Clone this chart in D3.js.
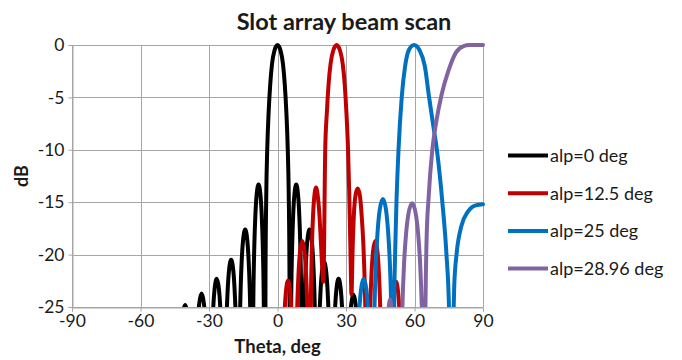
<!DOCTYPE html>
<html>
<head>
<meta charset="utf-8">
<script src="https://cdn.jsdelivr.net/npm/d3@7"></script>
<style>
  html, body { margin: 0; padding: 0; background: #ffffff; }
  svg { display: block; font-family: Lato, "Open Sans", sans-serif; }
</style>
</head>
<body>
<svg id="chart" width="682" height="360"></svg>
<script>
// Beam patterns of a slot array for several scan settings (theta in degrees, level in dB)
const seriesNames = ["alp=0 deg", "alp=12.5 deg", "alp=25 deg", "alp=28.96 deg"];
const seriesColors = ["#000000", "#c00000", "#0070c0", "#8064a2"];

const theta0 = [-90, -50,
  -44.2, -43.45, -42.33, -41.58, -40.45, -39.32, -38.58, -37.45, -36.7,
  -36.01, -34.98, -34.29, -33.25, -32.21, -31.52, -30.49, -29.8,
  -29.16, -28.2, -27.56, -26.6, -25.64, -25.0, -24.04, -23.4,
  -22.78, -22.32, -21.85, -21.23, -20.3, -19.37, -18.75, -18.28, -17.82, -17.2,
  -16.9, -16.59, -16.13, -15.68, -15.07, -14.15, -13.24, -12.63, -12.17, -11.71, -11.4, -11.1,
  -10.82, -10.54, -10.12, -9.7, -9.14, -8.3, -7.46, -6.9, -6.48, -6.06, -5.78, -5.5,
  -5.25, -4.9, -4.5, -3.9, -3.2, -2.4, -1.3, 0, 1.3, 2.4, 3.2, 3.9, 4.5, 4.9, 5.25, 5.5,
  5.77, 6.04, 6.45, 6.85, 7.39, 8.2, 9.01, 9.55, 9.96, 10.36, 10.63, 10.9,
  11.22, 11.53, 12.0, 12.48, 13.1, 14.05, 15.0, 15.62, 16.1, 16.57, 16.89, 17.2,
  17.84, 18.32, 18.8, 19.44, 20.4, 21.36, 22.0, 22.48, 22.96, 23.6,
  24.23, 25.18, 25.81, 26.75, 27.7, 28.33, 29.27, 29.9,
  30.57, 31.58, 32.25, 33.25, 34.25, 34.92, 35.93, 36.6,
  38.5, 39.3, 40.4, 41.5, 42.3, 44.2, 90];
const db0 = [-40, -40,
  -40, -35.0, -27.8, -25.8, -24.8, -25.8, -27.8, -35.0, -40,
  -33.9, -26.7, -24.7, -23.7, -24.7, -26.7, -33.9, -40,
  -32.5, -25.3, -23.3, -22.3, -23.3, -25.3, -32.5, -40,
  -30.7, -26.1, -23.5, -21.5, -20.5, -21.5, -23.5, -26.1, -30.7, -40,
  -33.7, -27.8, -23.2, -20.6, -18.6, -17.6, -18.6, -20.6, -23.2, -27.8, -33.7, -40,
  -29.4, -23.5, -18.9, -16.3, -14.3, -13.3, -14.3, -16.3, -18.9, -23.5, -29.4, -40,
  -22, -14, -10, -6.5, -3.8, -1.8, -0.5, 0, -0.5, -1.8, -3.8, -6.5, -10, -14, -22, -40,
  -29.4, -23.5, -18.9, -16.3, -14.3, -13.3, -14.3, -16.3, -18.9, -23.5, -29.4, -40,
  -33.7, -27.8, -23.2, -20.6, -18.6, -17.6, -18.6, -20.6, -23.2, -27.8, -33.7, -40,
  -30.9, -26.3, -23.7, -21.7, -20.7, -21.7, -23.7, -26.3, -30.9, -40,
  -32.5, -25.3, -23.3, -22.3, -23.3, -25.3, -32.5, -40,
  -34.0, -26.8, -24.8, -23.8, -24.8, -26.8, -34.0, -40,
  -28.3, -26.3, -25.3, -26.3, -28.3, -40, -40];

const theta1 = [-90, 1.6,
  2.2, 3.1, 3.7, 4.6, 5.5, 6.1, 7.0, 7.6,
  7.93, 8.25, 8.74, 9.23, 9.88, 10.85, 11.82, 12.48, 12.96, 13.45, 13.78, 14.1,
  14.38, 14.66, 15.08, 15.5, 16.06, 16.9, 17.75, 18.4, 19.0, 19.6, 20.1,
  20.9, 21.6, 22.35, 23.25, 24.45, 25.9, 27.35, 28.55, 29.45, 30.2, 30.9, 31.4, 31.9, 32.4,
  32.9, 33.5, 34.2, 35.1, 36.1, 36.9, 37.6, 38.3, 38.9, 39.6,
  39.92, 40.24, 40.72, 41.2, 41.84, 42.8, 43.76, 44.4, 44.88, 45.36, 45.68, 46.0,
  48.8, 49.42, 50.35, 50.97, 51.9, 52.83, 53.45, 54.38, 55.0, 90];
const db1 = [-40, -40,
  -32.7, -25.5, -23.5, -22.5, -23.5, -25.5, -32.7, -40,
  -34.8, -28.9, -24.3, -21.7, -19.7, -18.7, -19.7, -21.7, -24.3, -28.9, -34.8, -40,
  -29.7, -23.8, -19.2, -16.6, -14.6, -13.6, -14.6, -16.3, -18.8, -21.3, -22.6,
  -10, -6.5, -3.8, -1.8, -0.5, 0, -0.5, -1.8, -3.8, -6.5, -10, -14, -19, -23.8,
  -19.5, -16, -14.3, -13.7, -14.4, -16.4, -19, -23.5, -29.5, -40,
  -34.8, -28.9, -24.3, -21.7, -19.7, -18.7, -19.7, -21.7, -24.3, -28.9, -34.8, -40,
  -40, -32.8, -25.6, -23.6, -22.6, -23.6, -25.6, -32.8, -40, -40];

const theta2 = [-90, 33.9,
  34.67, 35.83, 36.6, 37.75, 38.9, 39.67, 40.83, 41.6,
  42.06, 42.51, 43.19, 43.88, 44.79, 46.15, 47.5, 48.4, 49.1, 49.8, 50.25, 50.7,
  51.1, 51.5, 52.1, 53.0, 54.4, 55.9, 57.5, 59.8, 62.2, 64.5, 66.4, 68.3, 69.8, 72.2, 74.0, 75.1, 75.9,
  76.7, 77.4, 78.5, 80.5, 83.4, 86.8, 90];
const db2 = [-40, -40,
  -32.5, -25.3, -23.3, -22.3, -23.3, -25.3, -32.5, -40,
  -30.8, -24.9, -20.3, -17.7, -15.7, -14.7, -15.7, -17.7, -20.3, -24.9, -30.8, -40,
  -25, -20, -15, -10, -5, -2, -0.5, 0, -0.5, -2, -5, -7.8, -10, -15, -20, -25, -40,
  -29, -23, -19.8, -17.3, -15.9, -15.3, -15.2];

const theta3 = [-90, 47.0,
  47.46, 48.15, 48.61, 49.3, 49.99, 50.45, 51.14, 51.6,
  53.6, 54.14, 54.67, 55.47, 56.28, 57.35, 58.95, 60.55, 61.63, 62.43, 63.23, 63.77, 64.3,
  64.8, 65.3, 66.2, 67.8, 69.4, 71.8, 74.8, 78.2, 81.5, 84, 90];
const db3 = [-40, -40,
  -34.5, -27.3, -25.3, -24.3, -25.3, -27.3, -34.5, -40,
  -40, -31.2, -25.3, -20.7, -18.1, -16.1, -15.1, -16.1, -18.1, -20.7, -25.3, -31.2, -40,
  -25, -18.5, -14.5, -10, -7.5, -4.8, -2.5, -0.7, -0.1, 0, 0];

const xTicks = [-90, -60, -30, 0, 30, 60, 90];
const yTicks = [0, -5, -10, -15, -20, -25];

const thetas = [theta0, theta1, theta2, theta3];
const levels = [db0, db1, db2, db3];

const svg = d3.select("#chart");
const plot = { left: 72, right: 483, top: 45, bottom: 307 };

const x = d3.scaleLinear().domain([-90, 90]).range([plot.left, plot.right]);
const y = d3.scaleLinear().domain([-25, 0]).range([plot.bottom, plot.top]);

const gridColor = "#a6a6a6";
const textColor = "#1a1a1a";
const plainNumber = d => String(d);

// gridlines
const grid = svg.append("g");
grid.selectAll("line.h").data(yTicks).join("line")
  .attr("x1", plot.left).attr("x2", plot.right)
  .attr("y1", d => Math.round(y(d)) + 0.5).attr("y2", d => Math.round(y(d)) + 0.5)
  .attr("stroke", gridColor).attr("stroke-width", 1);
grid.selectAll("line.v").data(xTicks).join("line")
  .attr("y1", plot.top).attr("y2", plot.bottom)
  .attr("x1", d => Math.round(x(d)) + 0.5).attr("x2", d => Math.round(x(d)) + 0.5)
  .attr("stroke", gridColor).attr("stroke-width", 1);

// axes
const xAxis = svg.append("g")
  .attr("transform", `translate(0,${Math.round(y(-25)) + 0.5})`)
  .call(d3.axisBottom(x).tickValues(xTicks).tickSize(4).tickPadding(3).tickFormat(plainNumber));
const yAxis = svg.append("g")
  .attr("transform", `translate(${Math.round(x(-90)) + 0.5},0)`)
  .call(d3.axisLeft(y).tickValues(yTicks).tickSize(4).tickPadding(4).tickFormat(plainNumber));
[xAxis, yAxis].forEach(a => {
  a.select(".domain").attr("stroke", gridColor);
  a.selectAll(".tick line").attr("stroke", gridColor);
  a.selectAll(".tick text").attr("fill", textColor).style("font-size", "17.5px").style("font-family", "Lato, sans-serif");
});
yAxis.selectAll(".tick text").attr("x", -8);

// curves, clipped to the plot area
svg.append("clipPath").attr("id", "plotclip").append("rect")
  .attr("x", plot.left).attr("y", plot.top - 3)
  .attr("width", plot.right - plot.left + 3).attr("height", plot.bottom - plot.top + 3);

const line = d3.line()
  .x(d => x(d[0])).y(d => y(d[1]))
  .curve(d3.curveMonotoneX);

const curves = svg.append("g").attr("clip-path", "url(#plotclip)");
thetas.forEach((t, i) => {
  const pts = t.map((v, k) => [v, levels[i][k]]);
  curves.append("path")
    .attr("d", line(pts))
    .attr("fill", "none")
    .attr("stroke", seriesColors[i])
    .attr("stroke-width", 4)
    .attr("stroke-linejoin", "round")
    .attr("stroke-linecap", "round");
});

// title and axis titles
svg.append("text").attr("x", 344).attr("y", 30).attr("text-anchor", "middle")
  .style("font-size", "23.5px").style("font-weight", "bold").attr("fill", textColor)
  .text("Slot array beam scan");
svg.append("text").attr("x", 277.5).attr("y", 353).attr("text-anchor", "middle")
  .style("font-size", "18.5px").style("font-weight", "bold").attr("fill", textColor)
  .text("Theta, deg");
svg.append("text").attr("transform", "translate(27.5,176) rotate(-90)").attr("text-anchor", "middle")
  .style("font-size", "18px").style("font-weight", "bold").attr("fill", textColor)
  .text("dB");

// legend
const legend = svg.append("g");
seriesNames.forEach((name, i) => {
  const ly = 155.5 + i * 37.7;
  legend.append("line").attr("x1", 508).attr("x2", 548).attr("y1", ly).attr("y2", ly)
    .attr("stroke", seriesColors[i]).attr("stroke-width", 4);
  legend.append("text").attr("x", 550).attr("y", ly).attr("dy", "0.35em")
    .style("font-size", "18px").attr("fill", textColor).text(name);
});
</script>
</body>
</html>
